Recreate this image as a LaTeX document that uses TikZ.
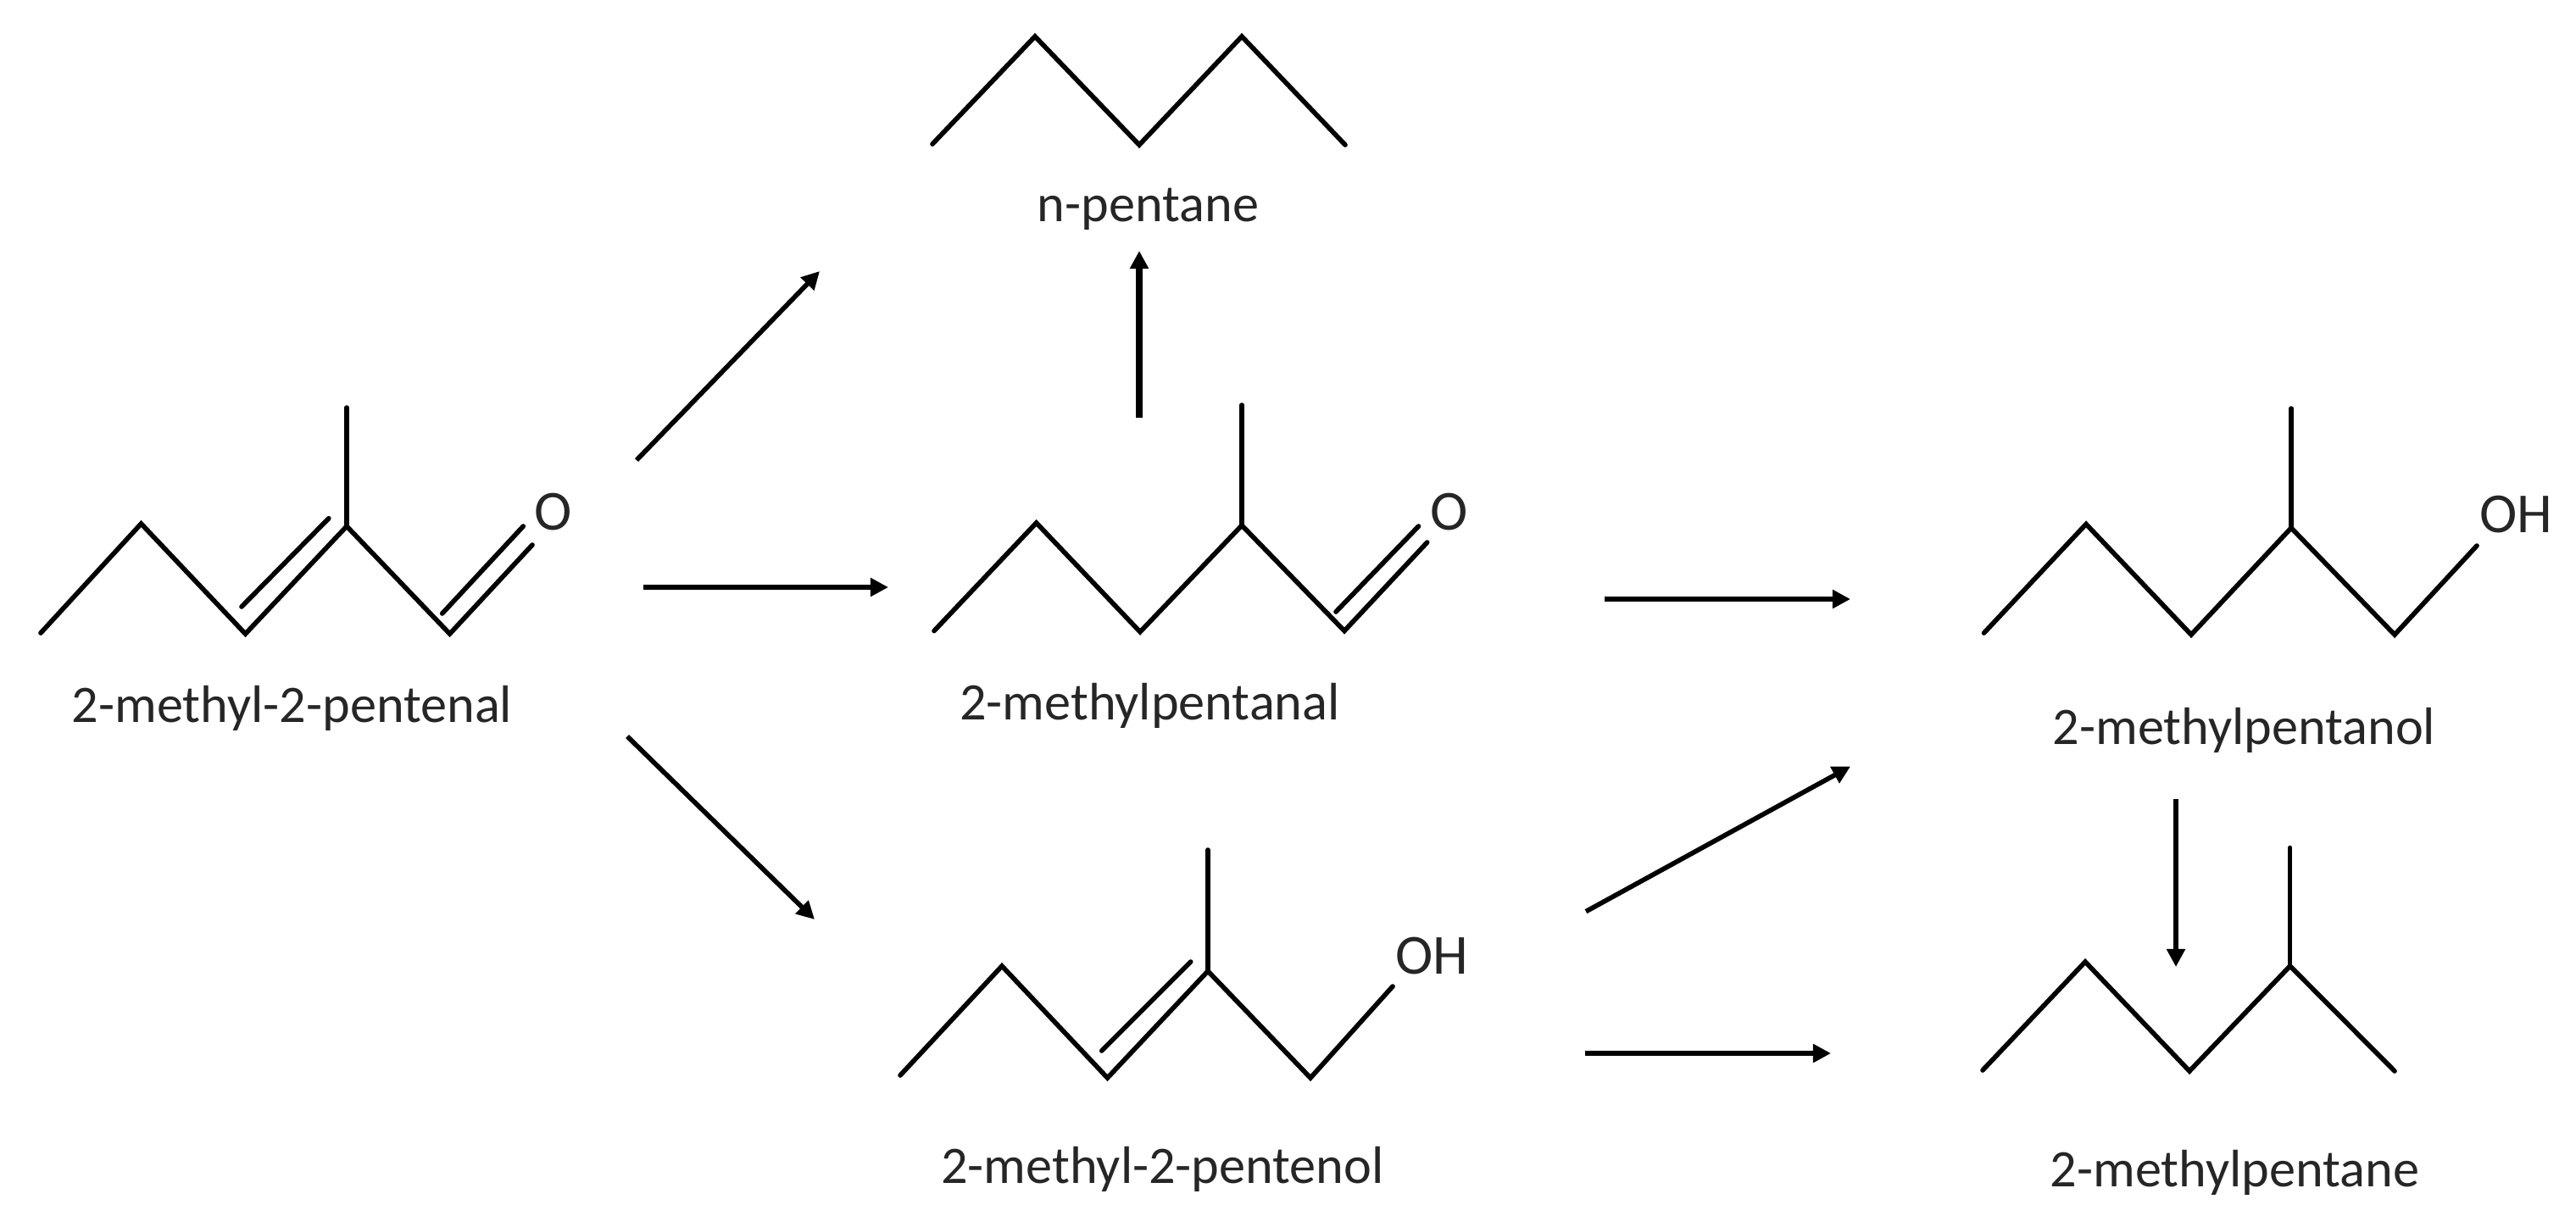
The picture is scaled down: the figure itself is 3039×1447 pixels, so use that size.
\documentclass[tikz,border=0pt]{standalone}
\usepackage{fontspec}
\setmainfont{Carlito}
\usetikzlibrary{calc,arrows.meta}
\tikzset{
  bond/.style={line width=1.6pt, line cap=round},
  react/.style={line width=1.6pt, -{Triangle[length=6pt,width=6pt]}},
  molname/.style={anchor=base, inner sep=0pt, text=black!85, font=\fontsize{17.7}{20}\selectfont},
  atomlabel/.style={anchor=base, inner sep=0pt, text=black!85, font=\fontsize{19}{20}\selectfont}
}
\begin{document}
\begin{tikzpicture}[x=0.01cm,y=-0.01cm]
                      \useasboundingbox (0,0) rectangle (3039,1447);
                      % 2-methyl-2-pentenal
                      \draw[bond] (48,747) -- (166.5,618) -- (289.5,748) -- (409,621) -- (530.6,748) -- (628,643);
                      \draw[bond] (409,621) -- (409,481);
                      \draw[bond] (285,716) -- (387.8,611.7);
                      \draw[bond] (521.7,724) -- (617.3,621);
                      \node[atomlabel] (pentenalO) at (653,625) {O};
                      \node[molname] (pentenal) at (344.5,852) {2-methyl-2-pentenal};
                      % n-pentane
                      \draw[bond] (1100,170) -- (1221,43) -- (1344,171) -- (1465,43) -- (1587,171);
                      \node[molname] (pentane) at (1354.5,261) {n-pentane};
                      % 2-methylpentanal
                      \draw[bond] (1102,744.5) -- (1222.6,617) -- (1345,745.7) -- (1465,620) -- (1586,744.5) -- (1683.7,640);
                      \draw[bond] (1465,620) -- (1465,478);
                      \draw[bond] (1576,722) -- (1673.5,621);
                      \node[atomlabel] (pentanalO) at (1710,625) {O};
                      \node[molname] (pentanal) at (1356.5,849.6) {2-methylpentanal};
                      % 2-methylpentanol
                      \draw[bond] (2340.5,747) -- (2461,618.5) -- (2585,749) -- (2703,623) -- (2825,749) -- (2922,644);
                      \draw[bond] (2703,623) -- (2703,482);
                      \node[atomlabel] (pentanolOH) at (2968,628) {OH};
                      \node[molname] (pentanol) at (2647.5,878) {2-methylpentanol};
                      % 2-methyl-2-pentenol
                      \draw[bond] (1062,1269) -- (1182,1140) -- (1306.5,1272) -- (1425,1146) -- (1546,1272) -- (1643,1164);
                      \draw[bond] (1425,1146) -- (1425,1003);
                      \draw[bond] (1299.7,1240) -- (1404.7,1135);
                      \node[atomlabel] (pentenolOH) at (1689.5,1149) {OH};
                      \node[molname] (pentenol) at (1371.5,1396) {2-methyl-2-pentenol};
                      % 2-methylpentane
                      \draw[bond] (2339,1263) -- (2460,1135) -- (2583,1264) -- (2701.6,1140) -- (2825,1264);
                      \draw[bond] (2701.6,1140) -- (2701.6,1000.5);
                      \node[molname] (methylpentane) at (2636.5,1400) {2-methylpentane};
                      % reaction arrows
                      \coordinate (a1) at (751,543);   \coordinate (a2) at (967,320);
                      \coordinate (b1) at (759,693);   \coordinate (b2) at (1048,693);
                      \coordinate (c1) at (740,869);   \coordinate (c2) at (961,1085);
                      \coordinate (d1) at (1344,492.5); \coordinate (d2) at (1344,296);
                      \coordinate (e1) at (1893,707);  \coordinate (e2) at (2183,707);
                      \coordinate (f1) at (1871,1075.6); \coordinate (f2) at (2183,904.5);
                      \coordinate (g1) at (1869.5,1243); \coordinate (g2) at (2160,1243);
                      \coordinate (h1) at (2567,943);  \coordinate (h2) at (2567,1141);
                      \draw[react] (a1) -- (a2);
                      \draw[react] (b1) -- (b2);
                      \draw[react] (c1) -- (c2);
                      \draw[react, line width=2.2pt] (d1) -- (d2);
                      \draw[react] (e1) -- (e2);
                      \draw[react] (f1) -- (f2);
                      \draw[react] (g1) -- (g2);
                      \draw[react] (h1) -- (h2);
\end{tikzpicture}
\end{document}
